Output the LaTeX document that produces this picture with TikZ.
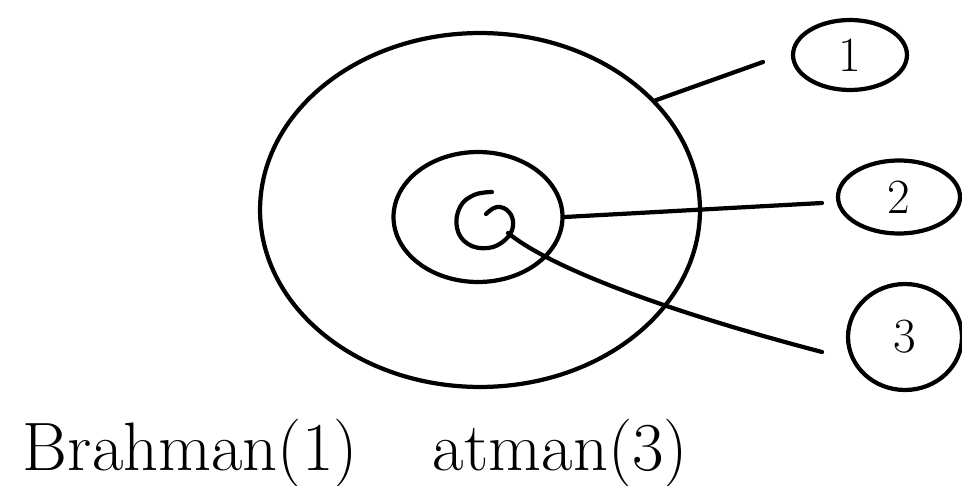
\documentclass[tikz,border=0pt]{standalone}
\usepackage{tikz}
\usetikzlibrary{shapes.geometric}

\begin{document}
\begin{tikzpicture}[x=0.02cm, y=-0.02cm, line width=2.4pt, line cap=round, line join=round,
  ring/.style={draw, ellipse, inner sep=0pt},
  tag/.style={draw, ellipse, inner sep=0pt, font=\fontsize{28}{30}\selectfont},
  caption/.style={anchor=base west, font=\fontsize{39}{42}\selectfont}]
\useasboundingbox (0,0) rectangle (962,486);

% Nested circles
\node[ring, minimum width=8.8cm, minimum height=7.08cm] (outer) at (480,210) {};
\node[ring, minimum width=3.38cm, minimum height=2.6cm] (middle) at (478,217) {};

% Inner spiral
\draw plot[smooth, tension=0.7] coordinates {(486,214) (497,207) (509,212) (513,226) (505,240) (488,248) (468,244) (457,228) (460,207) (474,195) (492,192)};
\coordinate (core) at (508,233);

% Numbered tags
\node[tag, minimum width=2.28cm, minimum height=1.4cm] (t1) at (850,55) {1};
\node[tag, minimum width=2.44cm, minimum height=1.46cm] (t2) at (899,197) {2};
\node[tag, minimum width=2.28cm, minimum height=2.12cm] (t3) at (905,337) {3};

% Leader lines
\coordinate (e1) at (763,62);
\coordinate (e2) at (822,203);
\coordinate (e3) at (822,352);
\draw (outer.32) -- (e1);
\draw (middle.east) -- (e2);
\draw (core) .. controls (560,275) and (700,320) .. (e3);

% Captions
\node[caption] (brahman) at (15,470) {Brahman(1)};
\node[caption] (atman) at (425,470) {atman(3)};

\end{tikzpicture}
\end{document}
